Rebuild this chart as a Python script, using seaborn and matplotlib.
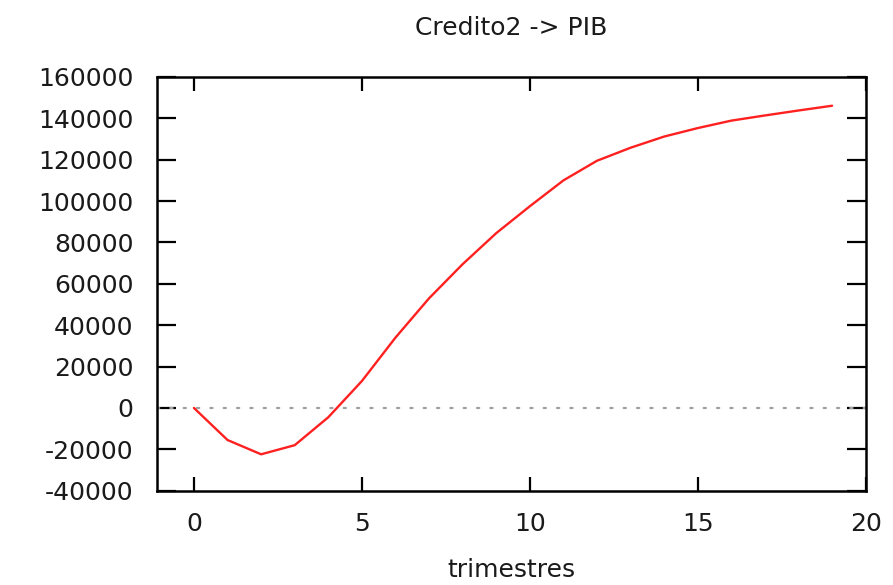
import matplotlib
matplotlib.use("Agg")
import matplotlib.pyplot as plt
import seaborn as sns
import pandas as pd

trimestres = list(range(20))
respuesta = [0, -15500, -22400, -18000, -4500, 13000, 34000, 53000, 69500, 84500,
             97500, 110000, 119500, 125800, 131200, 135300, 138900, 141400, 143800, 146100]
yticks = [-40000, -20000, 0, 20000, 40000, 60000, 80000, 100000, 120000, 140000, 160000]
xticks = [0, 5, 10, 15, 20]

sns.set_theme(style="white")
plt.rcParams['font.family'] = ['DejaVu Sans']

df = pd.DataFrame({"trimestres": trimestres, "respuesta": respuesta})

fig = plt.figure(figsize=(8.93, 5.85), dpi=100)
ax = fig.add_axes([0.1758, 0.1612, 0.9694 - 0.1758, 0.8684 - 0.1612])

ax.axhline(0, color="#a0a0a0", linestyle=(0, (1, 5)), linewidth=1.6,
           dash_capstyle="round", zorder=1)
sns.lineplot(data=df, x="trimestres", y="respuesta", ax=ax, color="#ff2020",
             linewidth=1.7, zorder=2)

ax.set_xlim(-1.1, 20)
ax.set_ylim(-40000, 160000)
ax.set_xticks(xticks)
ax.set_yticks(yticks)
ax.set_xticklabels([str(v) for v in xticks])
ax.set_yticklabels([str(v) for v in yticks])

for s in ax.spines.values():
    s.set_visible(True)
    s.set_color("black")
    s.set_linewidth(1.8)

ax.tick_params(axis="y", direction="in", length=14, width=1.6, pad=17,
               left=True, right=True, labelsize=18, colors="black", labelcolor="#1a1a1a")
ax.tick_params(axis="x", direction="in", length=10, width=1.6, pad=15,
               bottom=True, top=True, labelsize=18, colors="black", labelcolor="#1a1a1a")

ax.set_xlabel("trimestres", fontsize=18, labelpad=16, color="#1a1a1a")
ax.set_ylabel("")
ax.set_title("Credito2 -> PIB", fontsize=18, pad=30, color="#1a1a1a")

fig.savefig("out.png", dpi=100)
